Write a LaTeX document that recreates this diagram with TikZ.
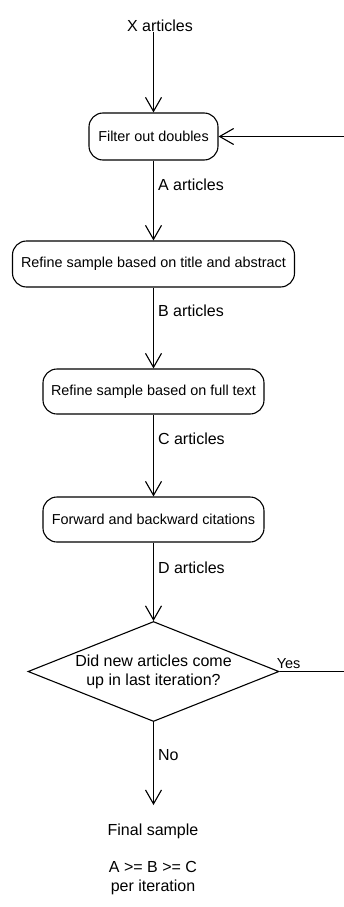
\documentclass[tikz,border=0pt]{standalone}
\usepackage{fontspec}
\setmainfont{Liberation Sans}
\usetikzlibrary{arrows.meta,shapes.geometric}

\tikzset{
  flow/.style={draw=black, line width=1.1pt, -{Straight Barb[length=14pt,width=16pt,line width=1.1pt]}},
  stepbox/.style={draw=black, line width=1.1pt, rounded corners=14pt, inner sep=0pt,
    font=\fontsize{14.4}{17}\selectfont},
  lbl/.style={inner sep=0pt, font=\fontsize{16}{19}\selectfont},
  edgelbl/.style={lbl, anchor=west, xshift=4pt},
  decision/.style={diamond, aspect=2.51, draw=black, line width=1.1pt, inner sep=0pt,
    minimum width=251pt, minimum height=100pt, align=center,
    font=\fontsize{16}{19}\selectfont}
}

\begin{document}
\begin{tikzpicture}[x=1pt, y=-1pt]
  \useasboundingbox (0,0) rectangle (343,907);

  % input
  \node[lbl, anchor=south] (xart) at (160,32) {X articles};

  % processing steps
  \node[stepbox, minimum width=129pt, minimum height=47pt] (filter) at (153.5,136.5) {Filter out doubles};
  \node[stepbox, minimum width=282pt, minimum height=46pt] (title) at (153.5,264) {Refine sample based on title and abstract};
  \node[stepbox, minimum width=221pt, minimum height=45pt] (full) at (153.5,391.5) {Refine sample based on full text};
  \node[stepbox, minimum width=221pt, minimum height=45pt] (cite) at (153.5,519.5) {Forward and backward citations};

  % loop test
  \node[decision] (test) at (153.5,671.5) {Did new articles come\\up in last iteration?};

  % result
  \node[lbl, anchor=north, inner ysep=0pt, text height=0pt, text depth=0pt] (final) at (153.5,805) {};
  \node[lbl, anchor=base] (finaltxt) at (153,835.5) {Final sample};
  \node[lbl, anchor=base] (note1) at (153,872.5) {A >= B >= C};
  \node[lbl, anchor=base] (note2) at (153,891) {per iteration};

  % loop-back point beyond the right edge
  \coordinate (loop) at (346,0);

  % main flow
  \draw[flow] (xart.south -| filter.north) -- (filter.north);
  \draw[flow] (filter.south) -- (title.north)
    node[edgelbl, pos=0.3] {A articles};
  \draw[flow] (title.south) -- (full.north)
    node[edgelbl, pos=0.29] {B articles};
  \draw[flow] (full.south) -- (cite.north)
    node[edgelbl, pos=0.29] {C articles};
  \draw[flow] (cite.south) -- (test.north)
    node[edgelbl, pos=0.325] {D articles};
  \draw[flow] (test.south) -- (final.north)
    node[edgelbl, pos=0.4] {No};

  % feedback
  \draw[flow] (test.east) -- (test.east -| loop) |- (filter.east);
  \node[inner sep=0pt, anchor=base west, font=\fontsize{14.5}{17}\selectfont]
    (yes) at ([xshift=-3pt, yshift=3pt]test.east) {Yes};
\end{tikzpicture}
\end{document}
